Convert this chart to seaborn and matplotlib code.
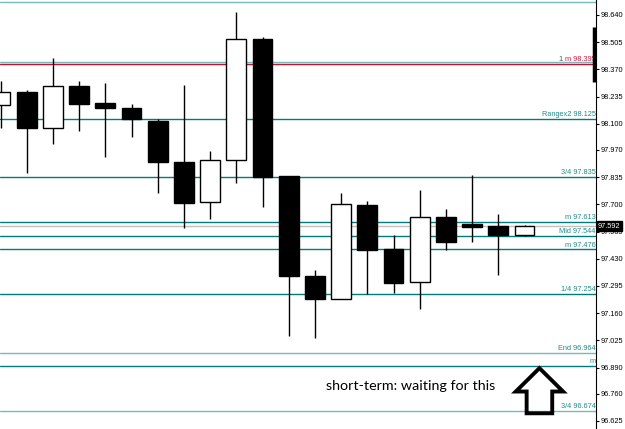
import matplotlib
matplotlib.use("Agg")
import matplotlib.pyplot as plt
from matplotlib.patches import FancyArrow
import seaborn as sns
import numpy as np

# candles (oldest -> newest)
opens = [98.192, 98.256, 98.078, 98.286, 98.202, 98.177, 98.115, 97.909, 97.712, 97.919, 98.522,
         97.841, 97.346, 97.232, 97.699, 97.477, 97.313, 97.639, 97.604, 97.591, 97.550]
highs = [98.312, 98.268, 98.425, 98.312, 98.303, 98.198, 98.124, 98.291, 97.965, 98.653, 98.528,
         97.841, 97.373, 97.755, 97.717, 97.547, 97.770, 97.677, 97.847, 97.654, 97.598]
lows = [98.078, 97.857, 98.000, 98.064, 97.934, 98.036, 97.758, 97.583, 97.626, 97.808, 97.687,
        97.048, 97.038, 97.232, 97.255, 97.259, 97.182, 97.472, 97.512, 97.348, 97.545]
closes = [98.256, 98.078, 98.286, 98.200, 98.180, 98.122, 97.909, 97.707, 97.919, 98.522, 97.837,
          97.345, 97.231, 97.702, 97.472, 97.311, 97.636, 97.512, 97.589, 97.548, 97.592]

# horizontal levels
level_prices = [98.705, 98.407, 98.395, 98.125, 97.835, 97.613, 97.544, 97.476, 97.254, 96.964, 96.898, 96.674]
level_labels = ["", "", "m 98.395", "Rangex2 98.125", "3/4 97.835", "m 97.613", "Mid 97.544",
                "m 97.476", "1/4 97.254", "End 96.964", "m", "3/4 96.674"]
level_kinds = ["light", "light", "red", "dark", "dark", "dark", "dark", "dark", "dark", "light", "dark", "light"]

current_price = 97.592
price_ticks = [98.640, 98.505, 98.370, 98.235, 98.100, 97.970, 97.835, 97.700, 97.565,
               97.430, 97.295, 97.160, 97.025, 96.890, 96.760, 96.625]

note_text = "short-term: waiting for this"

sns.set_style("white")
plt.rcParams["font.family"] = ["Liberation Sans", "DejaVu Sans"]

line_colors = {"dark": "#007b7b", "light": "#74bcbc", "red": "#c8102e"}
text_colors = {"dark": "#1f8c8c", "light": "#1f8c8c", "red": "#e0143c"}

fig = plt.figure(figsize=(6.25, 4.29), dpi=100)
ax = fig.add_axes([0, 0, 596 / 625, 1])

n = len(opens)
x = np.arange(n)
step_px = 26.2
xmin = -0.5 / step_px
ax.set_xlim(xmin, xmin + 596 / step_px)
ax.set_ylim(96.585, 98.714)

# levels
ax.axhline(current_price, color="#c0c0c0", lw=1.0, zorder=1)
for p, lab, kind in zip(level_prices, level_labels, level_kinds):
    ax.axhline(p, color=line_colors[kind], lw=1.0, zorder=1)
    if lab:
        ax.annotate(lab, xy=(0.999, p), xycoords=("axes fraction", "data"),
                    xytext=(0, 0.6), textcoords="offset points",
                    ha="right", va="bottom", fontsize=5.3, color=text_colors[kind], zorder=5)
ax.annotate("1", xy=(0.944, 98.395), xycoords=("axes fraction", "data"),
            xytext=(0, 0.6), textcoords="offset points",
            ha="right", va="bottom", fontsize=5.3, color="#555555", zorder=5)

# candles
w = 0.76
for i in range(n):
    o, h, l, c = opens[i], highs[i], lows[i], closes[i]
    ax.vlines(x[i], l, h, color="black", lw=1.0, zorder=2)
    bottom = min(o, c)
    height = max(abs(c - o), 0.004)
    face = "white" if c > o else "black"
    ax.bar(x[i], height, bottom=bottom, width=w, color=face, edgecolor="black",
           linewidth=1.0, zorder=3)

# note and arrow
ax.text(12.41, 96.80, note_text, fontsize=10.3, family=["Lato", "DejaVu Sans"],
        ha="left", va="center", color="black")
arrow = FancyArrow(20.57, 96.663, 0, 0.224, width=0.977, head_width=1.805, head_length=0.116,
                   length_includes_head=True, fill=False, edgecolor="black", linewidth=2.8,
                   joinstyle="miter", zorder=6)
ax.add_patch(arrow)

# right price axis
ax.yaxis.tick_right()
ax.set_yticks(price_ticks)
ax.set_yticklabels([f"{t:.3f}" for t in price_ticks])
ax.tick_params(axis="y", which="both", right=True, length=2.2, width=0.8, pad=1.2,
               labelsize=5.3, colors="black")
ax.set_xticks([])
for s in ["top", "left", "bottom"]:
    ax.spines[s].set_visible(False)
ax.spines["right"].set_color("black")
ax.spines["right"].set_linewidth(0.8)

# scroll marker on the price scale
ax.plot([0.997, 0.997], [98.307, 98.580], transform=ax.get_yaxis_transform(),
        color="black", lw=2.5, clip_on=False, solid_capstyle="butt", zorder=7)

# current price tag
ax.annotate(f"{current_price:.3f}", xy=(1.0, current_price), xycoords=("axes fraction", "data"),
            xytext=(1.5, 0), textcoords="offset points", ha="left", va="center",
            fontsize=5.3, color="white", zorder=10, annotation_clip=False,
            bbox=dict(boxstyle="square,pad=0.2", fc="black", ec="black"))

fig.savefig("out.png", dpi=100)
